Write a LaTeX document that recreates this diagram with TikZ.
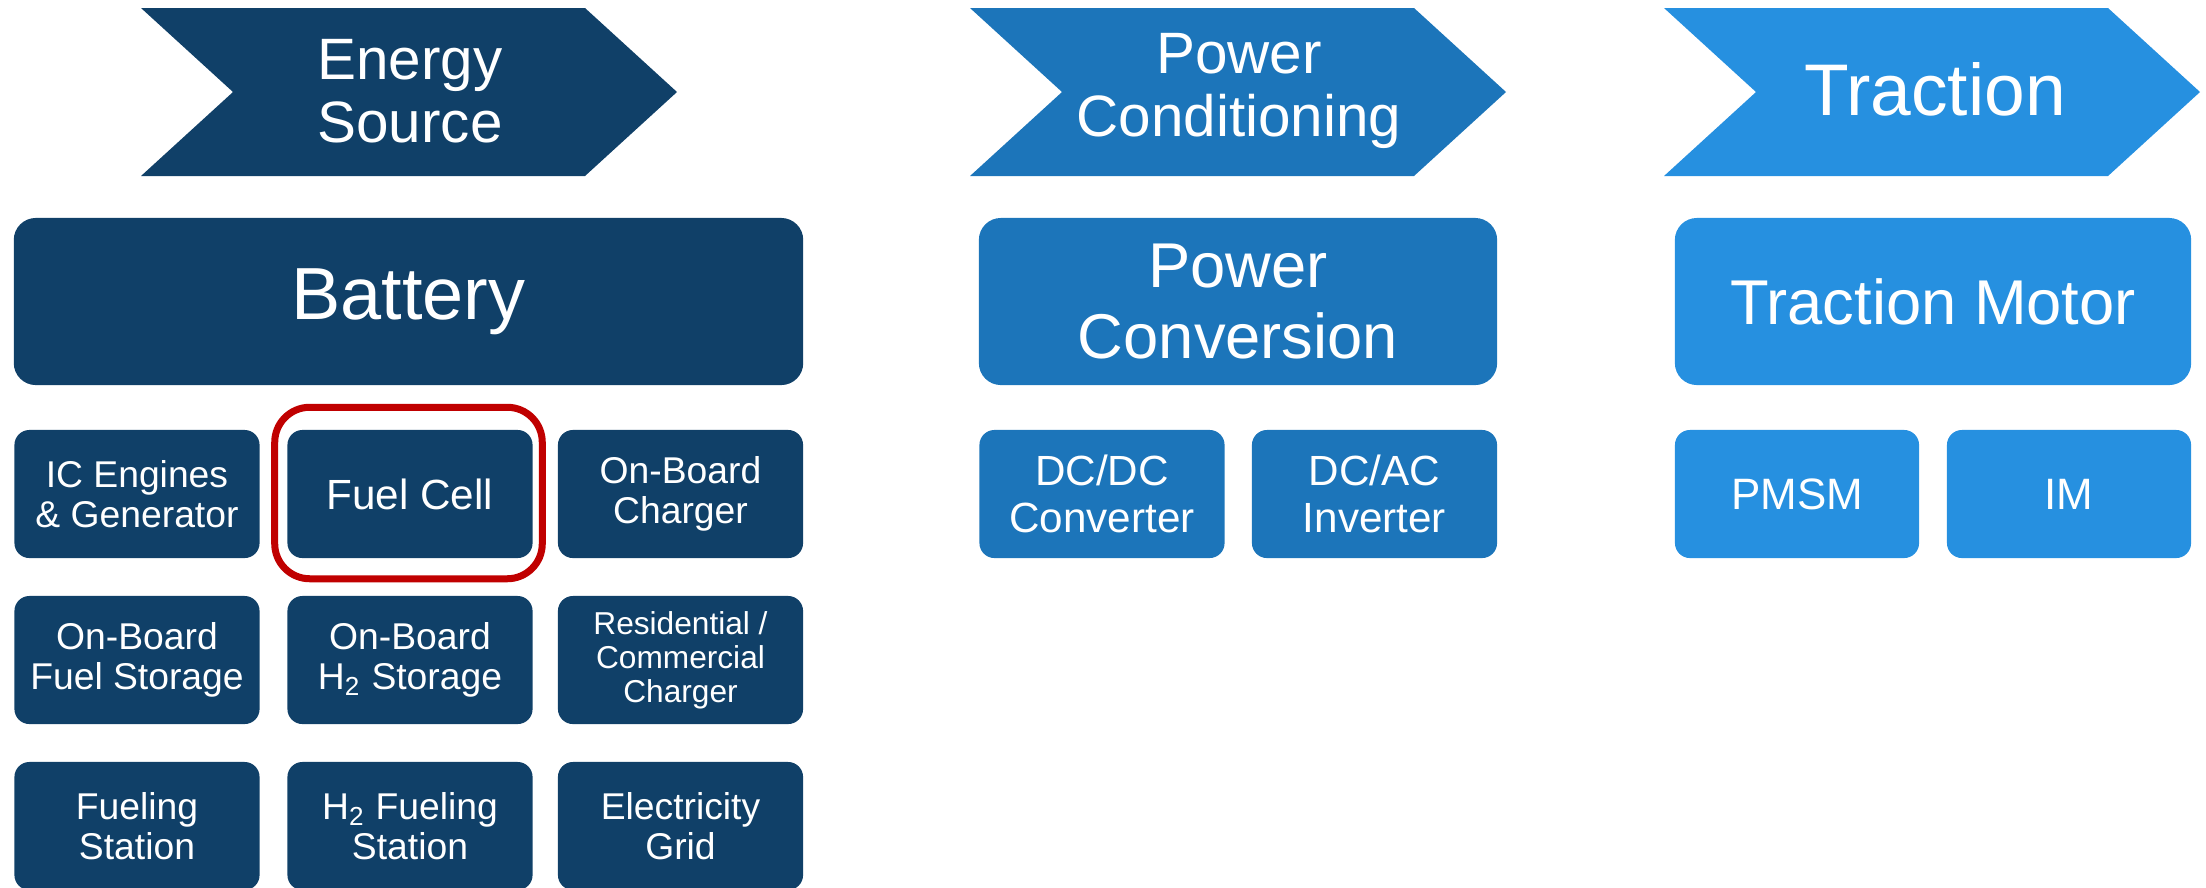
\documentclass[tikz,border=0pt]{standalone}
\usepackage{fontspec}
\setmainfont{Liberation Sans}
\usetikzlibrary{calc}

\definecolor{navy}{RGB}{16,64,104}
\definecolor{midblue}{RGB}{28,117,186}
\definecolor{skyblue}{RGB}{38,144,224}
\definecolor{hired}{RGB}{192,0,0}

\tikzset{
  tile/.style={fill=#1, rounded corners=0.15cm, text=white, align=center,
    inner sep=0pt, minimum width=2.45cm, minimum height=1.28cm,
    font=\fontsize{10.6pt}{11.4pt}\selectfont},
  bigtile/.style={fill=#1, rounded corners=0.22cm, text=white, align=center,
    inner sep=0pt, minimum height=1.67cm},
  headtext/.style={text=white, align=center, font=\fontsize{16.6pt}{17.9pt}\selectfont},
  hilite/.style={draw=hired, line width=0.07cm, rounded corners=0.35cm}
}

\begin{document}
\begin{tikzpicture}[x=0.01cm, y=-0.01cm]
  % Page size of the slide
  \clip (0,0) rectangle (2206,887);

  % Chevrons along the top
  \foreach \x/\col in {141/navy, 970/midblue, 1664/skyblue} {
    \fill[\col] (\x,8) -- ++(444,0) -- ++(92,84) -- ++(-92,84) -- ++(-444,0) -- ++(92,-84) -- cycle;
  }
  \node[headtext] (energy) at (410,91) {Energy\\Source};
  \node[headtext] (powercond) at (1239,91) {Power\\Conditioning};
  \node[headtext, font=\fontsize{20.8pt}{22pt}\selectfont] (traction) at (1935,89) {Traction};

  % Main blocks
  \node[bigtile=navy, minimum width=7.89cm, font=\fontsize{21pt}{23pt}\selectfont] (battery) at (408.5,301.5) {Battery};
  \node[bigtile=midblue, minimum width=5.18cm, font=\fontsize{18pt}{20pt}\selectfont] (conversion) at (1238,301.5) {Power\\Conversion};
  \node[bigtile=skyblue, minimum width=5.16cm, font=\fontsize{18pt}{20pt}\selectfont] (motor) at (1933,301.5) {Traction Motor};

  % Energy source options
  \node[tile=navy] (icengine) at (137,494) {IC Engines\\\& Generator};
  \node[tile=navy, font=\fontsize{12pt}{13pt}\selectfont] (fuel) at (410,494) {Fuel Cell};
  \node[tile=navy] (obcharger) at (680.5,494) {On-Board\\Charger};
  \node[tile=navy] (fuelstore) at (137,660) {On-Board\\Fuel Storage};
  \node[tile=navy] (htwostore) at (410,660) {On-Board\\H\textsubscript{2} Storage};
  \node[tile=navy, font=\fontsize{9pt}{9.7pt}\selectfont] (rescharger) at (680.5,660) {Residential /\\Commercial\\Charger};
  \node[tile=navy] (fuelstation) at (137,826) {Fueling\\Station};
  \node[tile=navy] (htwostation) at (410,826) {H\textsubscript{2} Fueling\\Station};
  \node[tile=navy] (grid) at (680.5,826) {Electricity\\Grid};

  % Converters and motors
  \node[tile=midblue, font=\fontsize{12pt}{13.4pt}\selectfont] (dcdc) at (1102,494) {DC/DC\\Converter};
  \node[tile=midblue, font=\fontsize{12pt}{13.4pt}\selectfont] (dcac) at (1374.5,494) {DC/AC\\Inverter};
  \node[tile=skyblue, minimum width=2.44cm, font=\fontsize{12.5pt}{13.4pt}\selectfont] (pmsm) at (1797,494) {PMSM};
  \node[tile=skyblue, minimum width=2.44cm, font=\fontsize{12.5pt}{13.4pt}\selectfont] (im) at (2069,494) {IM};

  % Highlight
  \draw[hilite] ($(fuel.north west)+(-12,-22)$) rectangle ($(fuel.south east)+(9,20)$);
\end{tikzpicture}
\end{document}
